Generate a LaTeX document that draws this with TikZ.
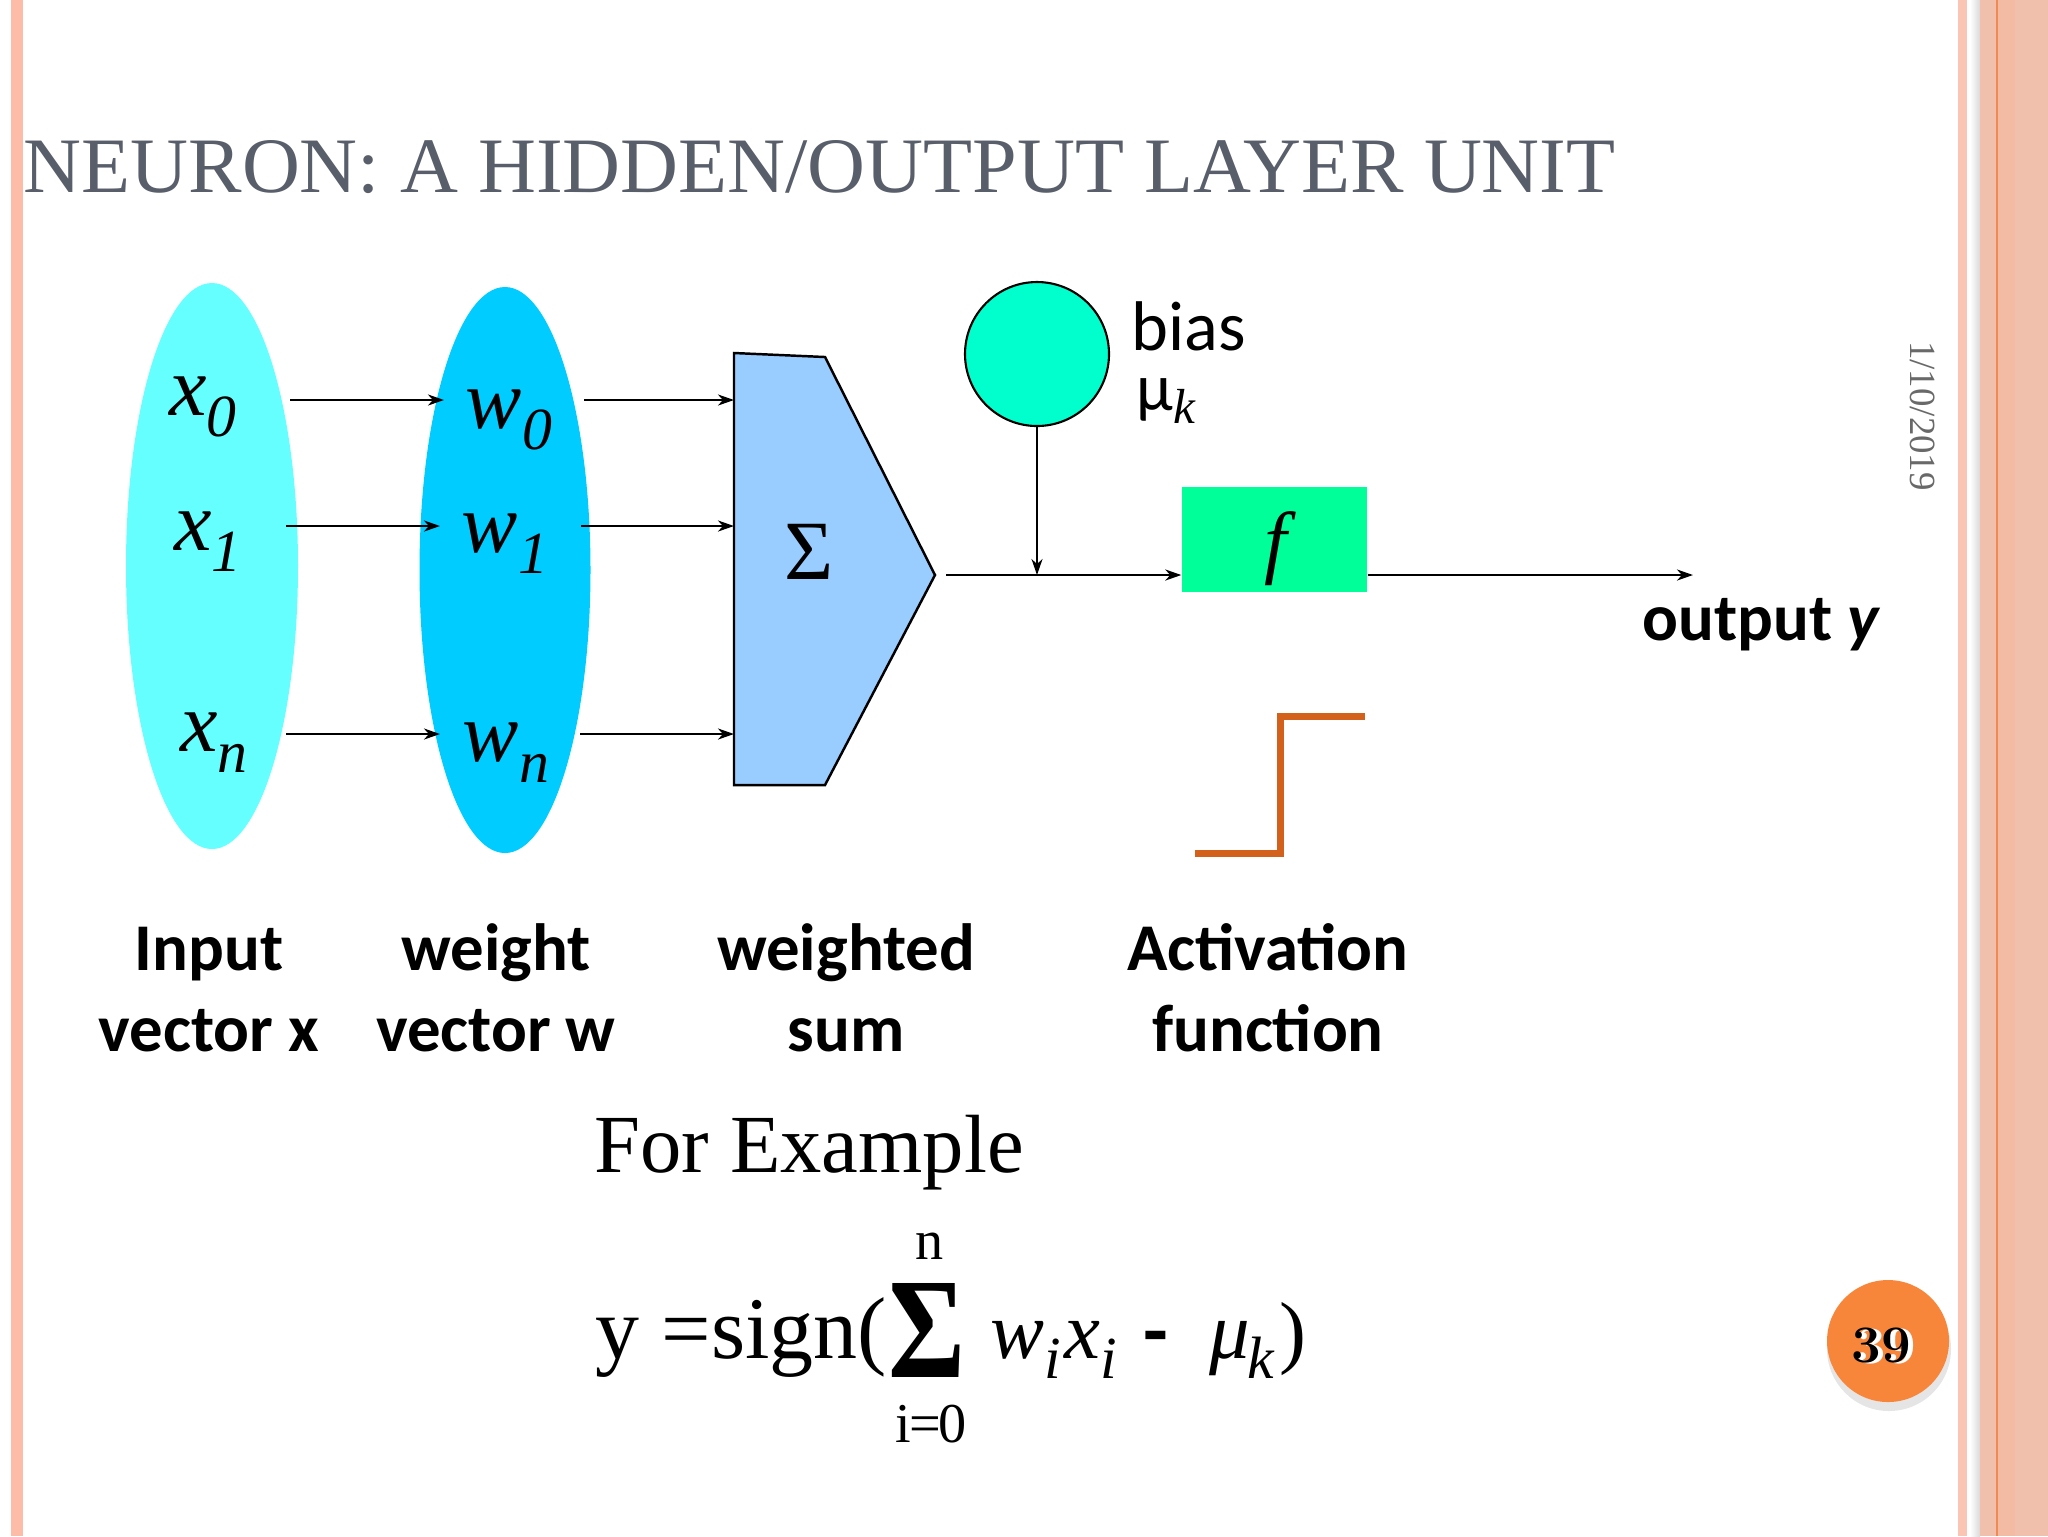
\documentclass[tikz,border=0pt]{standalone}
\usepackage{fontspec}
\usepackage{graphicx}
\usetikzlibrary{arrows.meta,shapes.geometric}

\newfontfamily\timesfont{Liberation Serif}
\newfontfamily\calfont{Carlito}

\definecolor{xfill}{RGB}{102,255,255}
\definecolor{wfill}{RGB}{0,204,255}
\definecolor{sumfill}{RGB}{153,204,255}
\definecolor{biasfill}{RGB}{0,255,204}
\definecolor{ffill}{RGB}{0,255,153}
\definecolor{stepcol}{RGB}{211,97,27}
\definecolor{titlecol}{RGB}{89,94,107}
\definecolor{datecol}{RGB}{105,105,105}
\definecolor{rimpink}{RGB}{253,188,168}
\definecolor{rimpale}{RGB}{250,197,178}
\definecolor{rimsalmon}{RGB}{241,192,173}
\definecolor{rimdeep}{RGB}{243,186,164}
\definecolor{rimline}{RGB}{239,138,82}
\definecolor{pgorange}{RGB}{248,134,58}

\newcommand{\subit}[1]{\raisebox{-0.25em}{\fontsize{17pt}{17pt}\selectfont\itshape #1}}
\newcommand{\vecsub}[2]{\textit{#1}\subit{#2}}

\begin{document}
\begin{tikzpicture}[x=0.1mm,y=-0.1mm,
		conn/.style={line width=0.7pt,-{Stealth[length=1.6mm,width=1.1mm,inset=0.5mm]}},
		sym/.style={inner sep=0pt,font={\timesfont\fontsize{24pt}{24pt}\selectfont}},
		lbl/.style={inner sep=0pt,anchor=base,align=center,font={\calfont\bfseries\fontsize{19pt}{23pt}\selectfont}}]

		\fill[white] (0,0) rectangle (2048,1536);
		\useasboundingbox (0,0) rectangle (2048,1536);

		% slide frame
		\fill[rimpink] (11,0) rectangle (23,1536);
		\fill[rimpale] (1958,0) rectangle (1967,1536);
		\shade[left color=white,right color=black!15] (1970,0) rectangle (1980,1536);
		\fill[rimsalmon] (1980,0) rectangle (2048,1536);
		\fill[rimdeep] (1998,0) rectangle (2015,1536);
		\draw[rimline,line width=0.7pt] (1997,0) -- (1997,1536);

		\node[anchor=base west,inner sep=0pt,text=titlecol] (title) at (23,192)
			{\resizebox{159.2mm}{5.2mm}{\timesfont NEURON: A HIDDEN/OUTPUT LAYER UNIT}};
		\node[rotate=-90,inner sep=0pt,text=datecol,font={\timesfont\fontsize{10.5pt}{12pt}\selectfont}] (date) at (1923,416) {1/10/2019};

		% input and weight vectors
		\node[ellipse,fill=xfill,minimum width=17.2mm,minimum height=56.6mm,inner sep=0pt] (xvec) at (212,566) {};
		\node[ellipse,fill=wfill,minimum width=17.1mm,minimum height=56.6mm,inner sep=0pt] (wvec) at (505,570) {};

		\node[sym] (x0) at (203,407) {\vecsub{x}{0}};
		\node[sym] (x1) at (208,542) {\vecsub{x}{1}};
		\node[sym] (xn) at (214,743) {\vecsub{x}{n}};
		\node[sym] (w0) at (509,420) {\vecsub{w}{0}};
		\node[sym] (w1) at (505,544) {\vecsub{w}{1}};
		\node[sym] (wn) at (506,753) {\vecsub{w}{n}};

		\coordinate (xo0) at (290,400);
		\coordinate (xo1) at (286,526);
		\coordinate (xon) at (286,734);
		\coordinate (wi0) at (444,400);
		\coordinate (wi1) at (440,526);
		\coordinate (win) at (440,734);
		\coordinate (wo0) at (584,400);
		\coordinate (wo1) at (581,526);
		\coordinate (won) at (580,734);

		% summing unit
		\coordinate (stl) at (734,353);
		\coordinate (str) at (825,357);
		\coordinate (stip) at (935,575);
		\coordinate (sbr) at (825,785);
		\coordinate (sbl) at (734,785);
		\draw[line width=0.7pt,fill=sumfill] (stl) -- (str) -- (stip) -- (sbr) -- (sbl) -- cycle;
		\node[sym] (sig) at (809,552) {Σ};

		\draw[conn] (xo0) -- (wi0);
		\draw[conn] (xo1) -- (wi1);
		\draw[conn] (xon) -- (win);
		\draw[conn] (wo0) -- (wo0 -| stl);
		\draw[conn] (wo1) -- (wo1 -| stl);
		\draw[conn] (won) -- (won -| stl);

		% bias and activation
		\node[circle,draw,line width=0.6pt,fill=biasfill,minimum size=14.4mm,inner sep=0pt] (bias) at (1037,354) {};
		\node[anchor=base west,inner sep=0pt,font={\calfont\fontsize{20pt}{20pt}\selectfont}] (biastxt) at (1131,350) {bias};
		\node[anchor=base west,inner sep=0pt,font={\calfont\fontsize{19pt}{19pt}\selectfont}] (mutxt) at (1136,410)
			{μ\raisebox{-0.2em}{\timesfont\itshape\fontsize{14pt}{14pt}\selectfont k}};

		\node[fill=ffill,minimum width=18.5mm,minimum height=10.5mm,inner sep=0pt] (fbox) at (1274.5,539.5) {};
		\node[inner sep=0pt,font={\timesfont\itshape\fontsize{23pt}{23pt}\selectfont}] (fsym) at (1276,549) {f};

		\coordinate (join) at (1037,575);
		\coordinate (sumout) at (946,575);
		\coordinate (yout) at (1693,575);
		\draw[conn,line width=0.5pt] (bias) -- (join);
		\draw[conn] (sumout) -- (sumout -| fbox.west);
		\draw[conn] (yout -| fbox.east) -- (yout);
		\node[anchor=base west,inner sep=0pt,font={\calfont\bfseries\fontsize{19pt}{19pt}\selectfont}] (outlbl) at (1642,640) {output \textit{y}};

		\draw[stepcol,line width=2pt] (1195,853) -- (1280,853) -- (1280,716) -- (1365,716);

		% captions (base = last line)
		\node[lbl] (capx) at (209,1051) {Input\\vector x};
		\node[lbl] (capw) at (496,1051) {weight\\vector w};
		\node[lbl] (caps) at (846,1051) {weighted\\sum};
		\node[lbl] (capf) at (1268,1051) {Activation\\function};

		% example formula
		\node[anchor=base west,inner sep=0pt,font={\timesfont\fontsize{23.5pt}{24pt}\selectfont}] (forex) at (594,1172) {For Example};
		\node[anchor=base west,inner sep=0pt,font={\timesfont\fontsize{25pt}{25pt}\selectfont}] (fmla) at (595,1358) {y =sign(};
		\node[inner sep=0pt] (fmls) at (927,1330) {\resizebox{7.7mm}{9.4mm}{\timesfont\bfseries Σ}};
		\node[inner sep=0pt,font={\timesfont\fontsize{16pt}{16pt}\selectfont}] (fmlt) at (930,1246) {n};
		\node[inner sep=0pt,font={\timesfont\fontsize{16pt}{16pt}\selectfont}] (fmlb) at (931,1424) {i\kern-0.5pt=\kern-1pt0};
		\node[anchor=base west,inner sep=0pt,font={\timesfont\fontsize{23pt}{23pt}\selectfont}] (fmlc) at (990,1358)
			{\textit{w}\subit{i}\kern1pt\textit{x}\subit{i}\hspace{2.6mm}{\calfont\bfseries -}\hspace{4.2mm}\textit{μ}\kern-1pt\subit{k}\hspace{0.6mm})};

		% page number
		\fill[black,opacity=0.10] (1889,1349) circle (62);
		\node[circle,fill=pgorange,minimum size=12.2mm,inner sep=0pt] (pgnum) at (1888,1341) {};
		\node[inner sep=0pt,text=white,font={\bfseries\fontsize{15pt}{15pt}\selectfont}] (pgshade) at (1886,1346) {39};
		\node[inner sep=0pt,font={\bfseries\fontsize{15pt}{15pt}\selectfont}] (pgtxt) at (1881,1345) {39};

	\end{tikzpicture}
\end{document}
